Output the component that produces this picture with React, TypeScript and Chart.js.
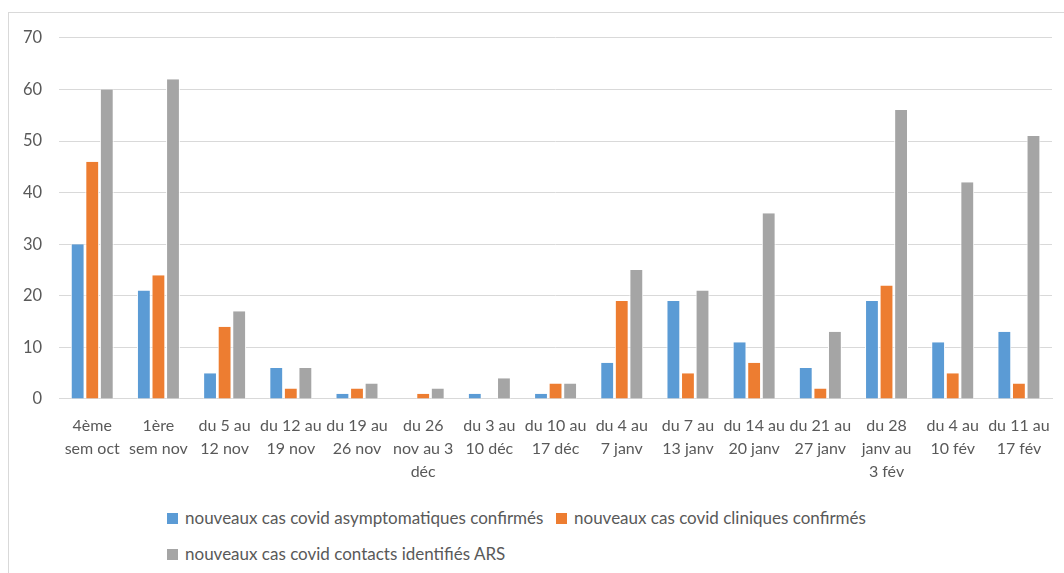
import React, { useEffect, useRef } from "react";
import { Chart, registerables } from "chart.js";

Chart.register(...registerables);

const categories: string[][] = [
  ["4ème", "sem oct"],
  ["1ère", "sem nov"],
  ["du 5 au", "12 nov"],
  ["du 12 au", "19 nov"],
  ["du 19 au", "26 nov"],
  ["du 26", "nov au 3", "déc"],
  ["du 3 au", "10 déc"],
  ["du 10 au", "17 déc"],
  ["du 4 au", "7 janv"],
  ["du 7 au", "13 janv"],
  ["du 14 au", "20 janv"],
  ["du 21 au", "27 janv"],
  ["du 28", "janv au", "3 fév"],
  ["du 4 au", "10 fév"],
  ["du 11 au", "17 fév"],
];

const seriesNames = [
  "nouveaux cas covid asymptomatiques confirmés",
  "nouveaux cas covid cliniques confirmés",
  "nouveaux cas covid contacts identifiés ARS",
];

const asymptomatiques = [30, 21, 5, 6, 1, 0, 1, 1, 7, 19, 11, 6, 19, 11, 13];
const cliniques = [46, 24, 14, 2, 2, 1, 0, 3, 19, 5, 7, 2, 22, 5, 3];
const contacts = [60, 62, 17, 6, 3, 2, 4, 3, 25, 21, 36, 13, 56, 42, 51];

const colors = ["#5B9BD5", "#ED7D31", "#A5A5A5"];
const FONT = "Lato, 'Open Sans', sans-serif";

export default function App() {
  const ref = useRef<HTMLCanvasElement | null>(null);

  useEffect(() => {
    if (!ref.current) return;
    const values = [asymptomatiques, cliniques, contacts];
    const chart = new Chart(ref.current, {
      type: "bar",
      data: {
        labels: categories,
        datasets: values.map((v, i) => ({
          label: seriesNames[i],
          data: v,
          backgroundColor: colors[i],
          borderColor: "#ffffff",
          borderWidth: { left: 1, right: 1, top: 0, bottom: 0 },
          categoryPercentage: 0.66,
          barPercentage: 0.95,
        })),
      },
      options: {
        animation: false,
        responsive: true,
        maintainAspectRatio: false,
        layout: { padding: { top: 14, right: 14, left: 0, bottom: 0 } },
        plugins: {
          legend: { display: false },
          tooltip: { enabled: false },
        },
        scales: {
          x: {
            grid: { display: false },
            border: { display: true, color: "#D9D9D9", width: 1 },
            ticks: {
              color: "#595959",
              font: { family: FONT, size: 16, lineHeight: 1.46 },
              maxRotation: 0,
              autoSkip: false,
              padding: 7,
            },
          },
          y: {
            min: 0,
            max: 70,
            border: { display: false },
            grid: { color: "#D9D9D9", lineWidth: 1, drawTicks: false },
            ticks: {
              stepSize: 10,
              color: "#595959",
              font: { family: FONT, size: 16.5 },
              padding: 17,
            },
          },
        },
      },
    });
    return () => chart.destroy();
  }, []);

  const legendItem = (i: number, left: number, top: number) => (
    <div
      key={i}
      style={{
        position: "absolute",
        left,
        top,
        display: "flex",
        alignItems: "center",
        fontFamily: FONT,
        fontSize: 17,
        color: "#595959",
        whiteSpace: "nowrap",
        lineHeight: "20px",
      }}
    >
      <span
        style={{
          display: "inline-block",
          width: 11,
          height: 11,
          background: colors[i],
          marginRight: 7,
        }}
      />
      {seriesNames[i]}
    </div>
  );

  return (
    <div
      style={{
        position: "fixed",
        left: 8,
        top: 12,
        width: 1090,
        height: 600,
        border: "1px solid #D9D9D9",
        background: "#ffffff",
        boxSizing: "border-box",
      }}
    >
      <div style={{ position: "absolute", left: -3, top: -2, width: 1060, height: 480 }}>
        <canvas ref={ref} />
      </div>
      {legendItem(0, 158, 495)}
      {legendItem(1, 547, 495)}
      {legendItem(2, 158, 531)}
    </div>
  );
}
